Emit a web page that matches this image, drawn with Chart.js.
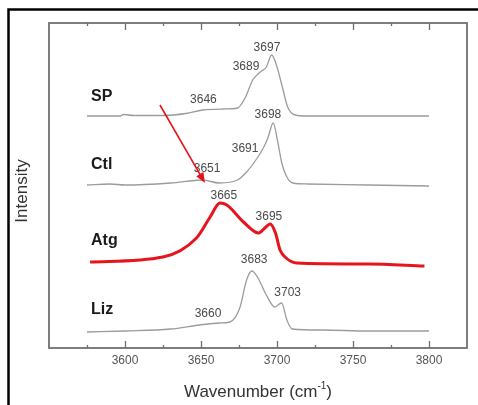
<!DOCTYPE html>
<html>
<head>
<meta charset="utf-8">
<script src="https://cdn.jsdelivr.net/npm/chart.js@4.4.1/dist/chart.umd.min.js"></script>
<style>
  html, body { margin: 0; padding: 0; background: #fff; }
  #wrap { width: 478px; height: 405px; }
</style>
</head>
<body>
<div id="wrap"><canvas id="ftir" width="478" height="405"></canvas></div>
<script>
// spectra (wavenumber / intensity, arbitrary units)
const spX = [3575, 3590, 3597, 3599, 3606, 3625, 3640, 3651, 3665, 3674, 3679, 3682, 3684, 3689, 3693, 3696.5, 3700, 3704, 3707, 3712, 3720, 3760, 3800];
const spY = [232, 232, 232, 233.5, 232.5, 232.5, 234.5, 238, 239, 240, 250, 261, 268, 276, 281, 293, 281, 258, 241, 233, 232, 232, 232];

const ctlX = [3575, 3590, 3600, 3630, 3651, 3662, 3674, 3680, 3687, 3691, 3694, 3697.5, 3700.5, 3703, 3706.5, 3710.5, 3720, 3760, 3800];
const ctlY = [163, 164, 163, 165, 168, 165, 168, 176, 190, 200, 210, 225, 206, 186, 171, 165, 164, 163, 162];

const atgX = [3577, 3625, 3647, 3656, 3662.5, 3667, 3678, 3688, 3692, 3695.5, 3699, 3702, 3706, 3713, 3760, 3797];
const atgY = [86, 91, 110, 131, 145, 143, 126, 115, 120, 124, 115, 98, 90, 85, 84, 82];

const lizX = [3575, 3600, 3630, 3649, 3662, 3669, 3675.5, 3680, 3683.5, 3687.5, 3693, 3698.5, 3703, 3706.5, 3710, 3730, 3760, 3800];
const lizY = [16, 17, 19, 23, 25, 26, 40, 68, 77, 70, 53, 41, 45, 28, 19, 18, 17, 17];

const tickLabels = [3600, 3650, 3700, 3750, 3800];

// sample names and peak labels
const sampleNames = ['SP', 'Ctl', 'Atg', 'Liz'];
const sampleNameY = [251, 183, 107, 38];
const peakText = ['3697', '3689', '3646', '3698', '3691', '3651', '3665', '3695', '3683', '3703', '3660'];
const peakX = [3693.4, 3679.6, 3651.6, 3694, 3679, 3654, 3665, 3694.7, 3685, 3707, 3654.6];
const peakY = [300, 281, 248.5, 233, 199, 179, 152, 131, 88, 55, 34];

// arrow (from / to)
const arrowX = [3623, 3652.6];
const arrowY = [243, 165];

function pts(xs, ys) {
  return xs.map((x, i) => ({ x: x, y: ys[i] }));
}

const FONT = '"Liberation Sans", Arial, sans-serif';

// 枠・目盛・注記を描く
const overlay = {
  id: 'overlay',
  afterDraw(chart) {
    const ctx = chart.ctx;
    const a = chart.chartArea;
    const x = chart.scales.x;
    const y = chart.scales.y;
    ctx.save();

    // outer black frame (top + left only)
    ctx.strokeStyle = '#000';
    ctx.lineWidth = 2.5;
    ctx.beginPath();
    ctx.moveTo(8.5, 405);
    ctx.lineTo(8.5, 9.5);
    ctx.lineTo(478, 9.5);
    ctx.stroke();

    // plot box
    ctx.strokeStyle = '#707070';
    ctx.lineWidth = 1.8;
    ctx.strokeRect(a.left, a.top, a.right - a.left, a.bottom - a.top);

    // inward ticks top and bottom
    ctx.lineWidth = 1.3;
    ctx.beginPath();
    x.ticks.forEach(t => {
      if (t.value <= x.min || t.value >= x.max) return;
      const px = Math.round(x.getPixelForValue(t.value)) + 0.5;
      const len = t.value % 50 === 0 ? 7 : 3;
      ctx.moveTo(px, a.bottom);
      ctx.lineTo(px, a.bottom - len);
      ctx.moveTo(px, a.top);
      ctx.lineTo(px, a.top + len);
    });
    ctx.stroke();

    // peak labels
    ctx.fillStyle = '#4a4a4a';
    ctx.font = '12px ' + FONT;
    ctx.textAlign = 'center';
    ctx.textBaseline = 'middle';
    peakText.forEach((s, i) => {
      ctx.fillText(s, x.getPixelForValue(peakX[i]), y.getPixelForValue(peakY[i]));
    });

    // sample names
    ctx.fillStyle = '#1a1a1a';
    ctx.font = 'bold 16px ' + FONT;
    ctx.textAlign = 'left';
    sampleNames.forEach((s, i) => {
      ctx.fillText(s, a.left + 42, y.getPixelForValue(sampleNameY[i]));
    });

    // red arrow
    const x0 = x.getPixelForValue(arrowX[0]), y0 = y.getPixelForValue(arrowY[0]);
    const x1 = x.getPixelForValue(arrowX[1]), y1 = y.getPixelForValue(arrowY[1]);
    const ang = Math.atan2(y1 - y0, x1 - x0);
    const head = 11;
    ctx.strokeStyle = '#e3141b';
    ctx.fillStyle = '#e3141b';
    ctx.lineWidth = 1.6;
    ctx.beginPath();
    ctx.moveTo(x0, y0);
    ctx.lineTo(x1 - head * 0.8 * Math.cos(ang), y1 - head * 0.8 * Math.sin(ang));
    ctx.stroke();
    ctx.beginPath();
    ctx.moveTo(x1, y1);
    ctx.lineTo(x1 - head * Math.cos(ang - 0.38), y1 - head * Math.sin(ang - 0.38));
    ctx.lineTo(x1 - head * Math.cos(ang + 0.38), y1 - head * Math.sin(ang + 0.38));
    ctx.closePath();
    ctx.fill();

    // axis titles
    ctx.fillStyle = '#333';
    ctx.font = '17px ' + FONT;
    ctx.textBaseline = 'alphabetic';
    ctx.textAlign = 'left';
    const main = 'Wavenumber (cm';
    const sup = '-1';
    const tail = ')';
    const wMain = ctx.measureText(main).width;
    const wTail = ctx.measureText(tail).width;
    ctx.font = '10px ' + FONT;
    const wSup = ctx.measureText(sup).width;
    const cx = (a.left + a.right) / 2;
    let sx = cx - (wMain + wSup + wTail) / 2;
    ctx.font = '17px ' + FONT;
    ctx.fillText(main, sx, 397);
    ctx.font = '10px ' + FONT;
    ctx.fillText(sup, sx + wMain, 389);
    ctx.font = '17px ' + FONT;
    ctx.fillText(tail, sx + wMain + wSup, 397);

    ctx.translate(22, 191);
    ctx.rotate(-Math.PI / 2);
    ctx.textAlign = 'center';
    ctx.textBaseline = 'middle';
    ctx.fillText('Intensity', 0, 0);

    ctx.restore();
  }
};

const grey = '#9c9c9c';

new Chart(document.getElementById('ftir'), {
  type: 'scatter',
  data: {
    datasets: [
      { label: 'SP', data: pts(spX, spY), borderColor: grey, borderWidth: 1.3 },
      { label: 'Ctl', data: pts(ctlX, ctlY), borderColor: grey, borderWidth: 1.3 },
      { label: 'Atg', data: pts(atgX, atgY), borderColor: '#e8141c', borderWidth: 3 },
      { label: 'Liz', data: pts(lizX, lizY), borderColor: grey, borderWidth: 1.3 }
    ]
  },
  options: {
    responsive: false,
    animation: false,
    devicePixelRatio: 1,
    showLine: true,
    elements: {
      point: { radius: 0 },
      line: { cubicInterpolationMode: 'monotone', fill: false }
    },
    layout: { padding: { left: 49, top: 23, right: 11, bottom: 0 } },
    plugins: {
      legend: { display: false },
      tooltip: { enabled: false }
    },
    scales: {
      x: {
        type: 'linear',
        min: 3550,
        max: 3825,
        grid: { display: false, drawTicks: false },
        border: { display: false },
        afterFit: s => { s.height = 57; },
        ticks: {
          stepSize: 25,
          autoSkip: false,
          maxRotation: 0,
          padding: 5,
          color: '#555',
          font: { family: FONT, size: 12 },
          callback: v => tickLabels.includes(v) ? String(v) : ''
        }
      },
      y: {
        type: 'linear',
        min: 0,
        max: 325,
        display: false
      }
    }
  },
  plugins: [overlay]
});
</script>
</body>
</html>
